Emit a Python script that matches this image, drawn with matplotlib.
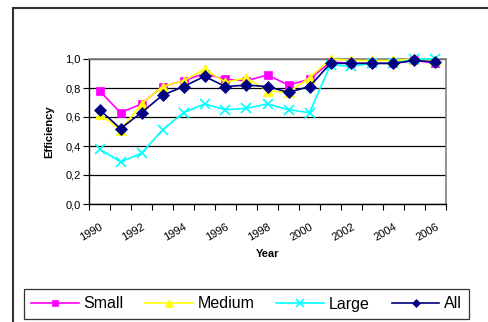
import matplotlib
matplotlib.use("Agg")
import matplotlib.pyplot as plt
from matplotlib.lines import Line2D
import numpy as np

plt.rcParams['font.family'] = ['Liberation Sans', 'DejaVu Sans']

years = list(range(1990, 2007))
small = [0.78, 0.63, 0.69, 0.81, 0.85, 0.90, 0.86, 0.85, 0.89, 0.82, 0.86,
         0.98, 0.97, 0.97, 0.97, 0.99, 0.97]
medium = [0.62, 0.51, 0.69, 0.81, 0.85, 0.93, 0.84, 0.87, 0.78, 0.77, 0.87,
          1.00, 0.99, 0.99, 0.99, 1.00, 0.99]
large = [0.38, 0.29, 0.35, 0.51, 0.63, 0.69, 0.65, 0.66, 0.69, 0.65, 0.63,
         0.96, 0.95, 0.97, 0.97, 1.00, 1.00]
all_firms = [0.65, 0.52, 0.63, 0.75, 0.81, 0.88, 0.81, 0.82, 0.81, 0.77, 0.81,
             0.97, 0.97, 0.97, 0.97, 0.99, 0.98]
year_labels = [str(y) for y in years[::2]]
y_ticks = [0.0, 0.2, 0.4, 0.6, 0.8, 1.0]
y_tick_labels = ['0,0', '0,2', '0,4', '0,6', '0,8', '1,0']

W, H = 489, 322
fig = plt.figure(figsize=(W / 100, H / 100), dpi=100)
fig.patch.set_facecolor('white')

def fx(px):
    return px / W

def fy(py):
    return 1 - py / H

ax = fig.add_axes([fx(89), fy(204), fx(446) - fx(89), fy(59) - fy(204)])
x = np.arange(len(years))

series = [
    ('Small', small, '#FF00FF', 's', 6),
    ('Medium', medium, '#FFFF00', '^', 7),
    ('Large', large, '#00FFFF', 'x', 7),
    ('All', all_firms, '#000080', 'D', 6),
]
handles = []
for name, vals, col, mk, ms in series:
    h, = ax.plot(x, vals, color=col, marker=mk, markersize=ms, linewidth=1.2,
                 markeredgewidth=1.2 if mk == 'x' else 0.5,
                 markeredgecolor=col, markerfacecolor=col, label=name,
                 clip_on=False, zorder=3)
    handles.append(h)

ax.set_xlim(-0.5, len(years) - 0.5)
ax.set_ylim(0, 1.0)

# category boundaries as major ticks, year labels on every second category
ax.set_xticks(np.arange(-0.5, len(years), 1.0))
ax.set_xticklabels([])
ax.set_xticks(x[::2], minor=True)
ax.set_xticklabels(year_labels, minor=True, rotation=30, ha='right',
                   va='top', rotation_mode='anchor', fontsize=8)
ax.tick_params(axis='x', which='major', length=4, width=0.8, direction='out')
ax.tick_params(axis='x', which='minor', length=0, pad=13)

ax.set_yticks(y_ticks)
ax.set_yticklabels(y_tick_labels, fontsize=8)
ax.tick_params(axis='y', length=4, width=0.8, direction='out', pad=2)

ax.grid(axis='y', color='black', linewidth=0.9)
ax.set_axisbelow(True)
for side in ('left', 'bottom'):
    ax.spines[side].set_color('black')
    ax.spines[side].set_linewidth(1.0)
for side in ('top', 'right'):
    ax.spines[side].set_color('#808080')
    ax.spines[side].set_linewidth(1.2)

ax.set_xlabel('Year', fontsize=8, fontweight='bold', labelpad=4)
ax.set_ylabel('Efficiency', fontsize=8, fontweight='bold', labelpad=8)

leg = fig.legend(handles=handles, loc='center', ncol=4,
                 bbox_to_anchor=(fx(246.5), fy(304)), fontsize=11.5,
                 frameon=True, fancybox=False, edgecolor='black',
                 handlelength=3.0, columnspacing=1.35, handletextpad=0.3,
                 borderpad=0.45, markerscale=0.75)
leg.get_frame().set_linewidth(0.9)

# outer frame of the chart area
fig.add_artist(Line2D([fx(13.5), 1.0], [fy(8), fy(8)], color='#333333',
                      linewidth=1.5))
fig.add_artist(Line2D([fx(13.5), fx(13.5)], [fy(8), 0.0], color='#333333',
                      linewidth=1.5))

fig.savefig('out.png', dpi=100, facecolor='white')
